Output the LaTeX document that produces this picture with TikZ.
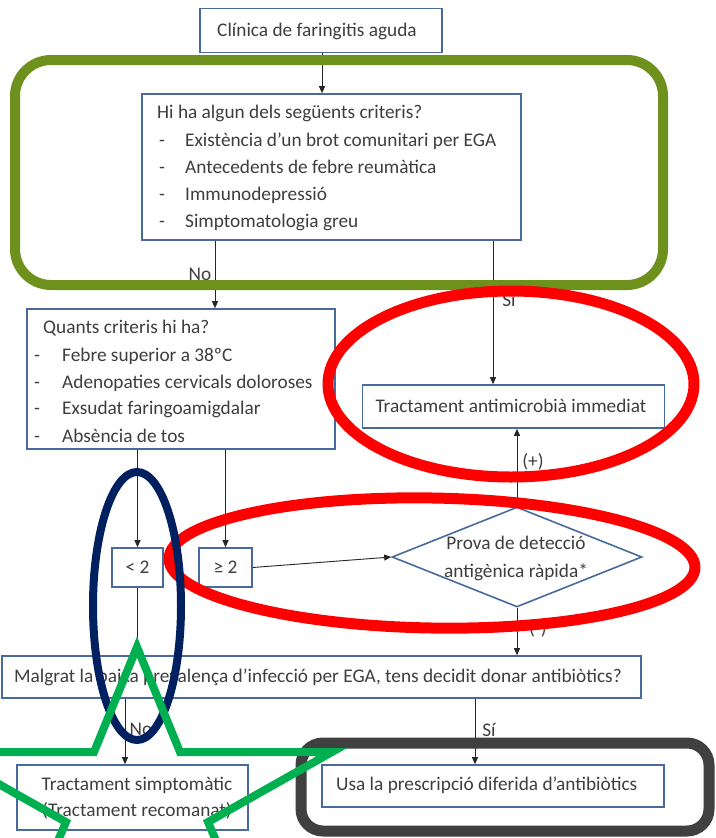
\documentclass[tikz,border=0pt]{standalone}
\usepackage{fontspec}
\setmainfont{Carlito}
\usetikzlibrary{shapes.geometric,arrows.meta}
\definecolor{boxblue}{RGB}{72,106,156}
\definecolor{txt}{RGB}{62,62,62}
\definecolor{olivemark}{RGB}{110,145,30}
\definecolor{redmark}{RGB}{255,0,0}
\definecolor{navymark}{RGB}{0,32,96}
\definecolor{greenmark}{RGB}{0,176,80}
\definecolor{darkmark}{RGB}{64,64,64}
\tikzset{
  box/.style={draw=boxblue, line width=1.6pt, fill=white, inner sep=0pt, rectangle},
  lbl/.style={text=txt, font=\fontsize{19.3}{21}\selectfont, inner sep=0pt, text height=14pt, text depth=4.5pt},
  conn/.style={draw=black!85, line width=0.9pt, -{Triangle[length=7pt,width=6pt]}},
  markline/.style={line width=#1, fill=none},
}
\begin{document}
\begin{tikzpicture}[x=1pt,y=-1pt]
\useasboundingbox (0,0) rectangle (715,838);
\clip (0,0) rectangle (715,838);
\fill[white] (0,0) rectangle (715,838);

% boxes
\node[box, minimum width=242pt, minimum height=44pt] (b1) at (321,30.5) {};
\node[lbl] (t1) at (317,32) {Clínica de faringitis aguda};

\node[box, minimum width=379pt, minimum height=146pt] (b2) at (331.5,167) {};
\node[lbl, anchor=west] (t2a) at (157,114) {Hi ha algun dels següents criteris?};
\node[lbl, anchor=west] (t2d1) at (159,142) {-};
\node[lbl, anchor=west] (t2b) at (185,142) {Existència d’un brot comunitari per EGA};
\node[lbl, anchor=west] (t2d2) at (159,169) {-};
\node[lbl, anchor=west] (t2c) at (185,169) {Antecedents de febre reumàtica};
\node[lbl, anchor=west] (t2d3) at (159,196) {-};
\node[lbl, anchor=west] (t2d) at (185,196) {Immunodepressió};
\node[lbl, anchor=west] (t2d4) at (159,223) {-};
\node[lbl, anchor=west] (t2e) at (185,223) {Simptomatologia greu};

\node[box, minimum width=308pt, minimum height=140pt] (b3) at (181,379) {};
\node[lbl, anchor=west] (t3a) at (43,329) {Quants criteris hi ha?};
\node[lbl, anchor=west] (t3d1) at (34,357) {-};
\node[lbl, anchor=west] (t3b) at (62,357) {Febre superior a 38ºC};
\node[lbl, anchor=west] (t3d2) at (34,384) {-};
\node[lbl, anchor=west] (t3c) at (62,384) {Adenopaties cervicals doloroses};
\node[lbl, anchor=west] (t3d3) at (34,410) {-};
\node[lbl, anchor=west] (t3d) at (62,410) {Exsudat faringoamigdalar};
\node[lbl, anchor=west] (t3d4) at (34,438) {-};
\node[lbl, anchor=west] (t3e) at (62,438) {Absència de tos};

\node[box, minimum width=302pt, minimum height=43pt] (b4) at (513.5,406.5) {};
\node[lbl] (t4) at (511,408) {Tractament antimicrobià immediat};

\node[box, minimum width=51pt, minimum height=39pt] (lt2) at (137.5,567.5) {};
\node[lbl] (tlt) at (137.5,569) {< 2};
\node[box, minimum width=53pt, minimum height=39pt] (ge2) at (225.5,567.5) {};
\node[lbl] (tge) at (225.5,569) {≥ 2};

\node[draw=boxblue, line width=1.6pt, fill=white, diamond, aspect=2.5, inner sep=0pt,
      minimum width=250pt, minimum height=100pt] (diam) at (517,557) {};
\node[lbl] (td1) at (516,545) {Prova de detecció};
\node[lbl] (td2) at (516,573) {antigènica ràpida*};

\node[box, minimum width=639pt, minimum height=42pt] (b5) at (321.5,677) {};
\node[lbl, anchor=west] (t5) at (14,678) {Malgrat la baixa prevalença d’infecció per EGA, tens decidit donar antibiòtics?};

\node[box, minimum width=231pt, minimum height=65pt] (b6) at (132.5,797.5) {};
\node[lbl] (t6a) at (137,786) {Tractament simptomàtic};
\node[lbl] (t6b) at (137,812) {(Tractament recomanat)};

\node[box, minimum width=342pt, minimum height=42pt] (b7) at (493,786) {};
\node[lbl, anchor=west] (t7) at (336,786) {Usa la prescripció diferida d’antibiòtics};

% connector x positions
\coordinate (xno) at (215,0);
\coordinate (xsi) at (493,0);
\coordinate (xno2) at (125,0);
\coordinate (xsi2) at (475,0);

\draw[conn] (b1.south -| 322,0) -- (b2.north -| 322,0);
\draw[conn] (b2.south -| xno) -- (b3.north -| xno);
\draw[conn] (b2.south -| xsi) -- (b4.north -| xsi);
\draw[conn] (b3.south -| lt2.north) -- (lt2.north);
\draw[conn] (b3.south -| ge2.north) -- (ge2.north);
\draw[conn] (ge2.east) -- (diam.west);
\draw[conn] (diam.north) -- (diam.north |- b4.south);
\draw[conn] (diam.south) -- (diam.south |- b5.north);
\draw[conn] (lt2.south) -- (lt2.south |- b5.north);
\draw[conn] (b5.south -| xno2) -- (b6.north -| xno2);
\draw[conn] (b5.south -| xsi2) -- (b7.north -| xsi2);

\node[lbl] (lno) at (200,276) {No};
\node[lbl] (lsi) at (509,302) {Sí};
\node[lbl] (lplus) at (533,463) {(+)};
\node[lbl] (lminus) at (538,630) {(-)};
\node[lbl] (lno2) at (141,731) {No};
\node[lbl] (lsi2) at (489,732) {Sí};

% annotation overlays
\draw[olivemark, markline=10pt, rounded corners=36pt] (15,60) rectangle (663,285);
\draw[redmark, markline=11pt] (511,384) ellipse [x radius=183, y radius=93];
\draw[redmark, markline=11pt, rotate around={-1:(432,563)}] (432,563) ellipse [x radius=263, y radius=65];
\draw[navymark, markline=8pt] (137,606) ellipse [x radius=44, y radius=134];
\draw[darkmark, markline=11pt, rounded corners=22pt] (301,743) rectangle (709,831);
\draw[greenmark, markline=8pt, line join=miter]
  (137,647) -- (180,752) -- (332,752) -- (208,822) -- (250,920) -- (137,862)
  -- (24,920) -- (66,822) -- (-58,752) -- (94,752) -- cycle;
\end{tikzpicture}
\end{document}
